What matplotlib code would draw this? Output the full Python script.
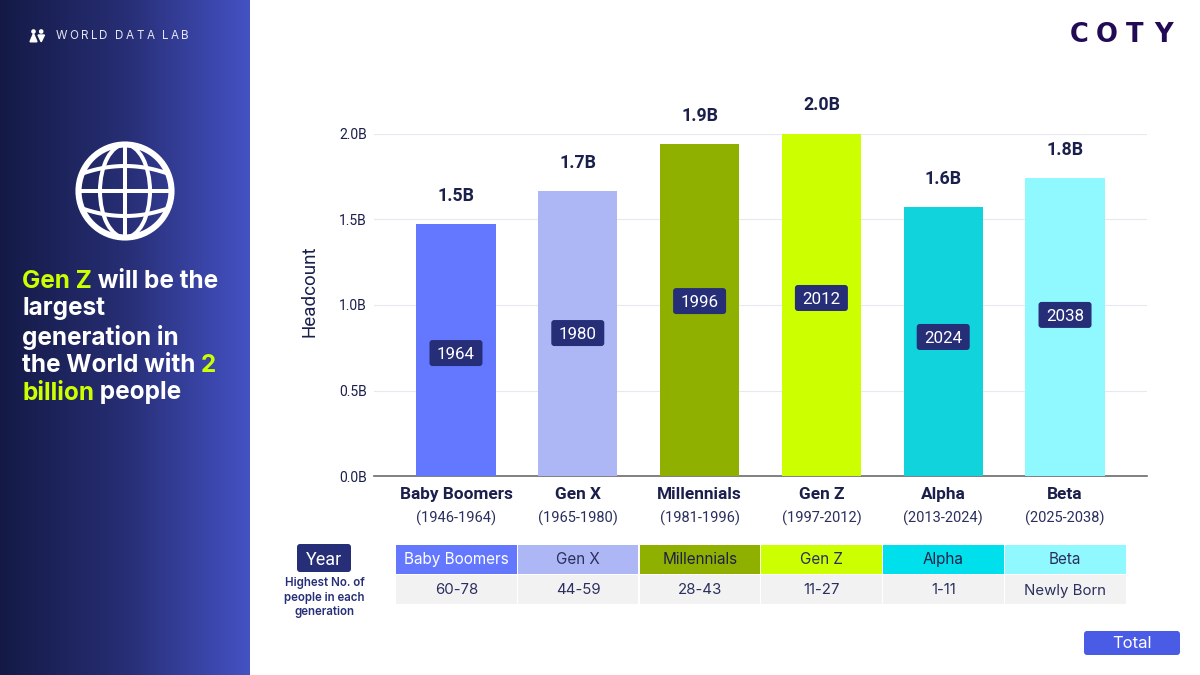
#!/usr/bin/env python

import numpy as np
import matplotlib
matplotlib.use('Agg')
import matplotlib.pyplot as plt
from matplotlib.colors import LinearSegmentedColormap
from matplotlib.patches import Rectangle, FancyBboxPatch, Circle, Ellipse, Polygon

generations = ['Baby Boomers', 'Gen X', 'Millennials', 'Gen Z', 'Alpha', 'Beta']
spans = ['(1946-1964)', '(1965-1980)', '(1981-1996)', '(1997-2012)', '(2013-2024)', '(2025-2038)']
headcount = [1.474, 1.667, 1.942, 2.006, 1.573, 1.743]
top_labels = ['1.5B', '1.7B', '1.9B', '2.0B', '1.6B', '1.8B']
end_years = ['1964', '1980', '1996', '2012', '2024', '2038']
year_heights = [0.719, 0.836, 1.023, 1.041, 0.813, 0.942]
ages = ['60-78', '44-59', '28-43', '11-27', '1-11', 'Newly Born']
y_ticks = [0, 0.5, 1.0, 1.5, 2.0]
y_tick_labels = ['0.0B', '0.5B', '1.0B', '1.5B', '2.0B']

bar_colors = ['#6478ff', '#aeb7f5', '#90b000', '#ccff00', '#10d3dc', '#90f9ff']
cell_colors = ['#6478ff', '#aeb7f5', '#90b000', '#ccff00', '#00e0ec', '#90f9ff']
cell_text = ['white', '#2a2f5e', '#1d2145', '#2a2f5e', '#1d2145', '#2a2f5e']

NAVY = '#1a1f4b'
BADGE = '#272e78'
LIME = '#ccff00'

fig = plt.figure(figsize=(12, 6.75), dpi=100, facecolor='white')
renderer = fig.canvas.get_renderer()

# overlay in pixel coordinates for the panel, table and logos
bg = fig.add_axes([0, 0, 1, 1], zorder=0)
panel_cmap = LinearSegmentedColormap.from_list('panel', ['#141a45', '#272e74', '#4452c4'])
bg.imshow(np.linspace(0, 1, 256).reshape(1, -1), cmap=panel_cmap, aspect='auto',
          extent=[0, 250, 675, 0], zorder=1)
bg.set_xlim(0, 1200)
bg.set_ylim(675, 0)
bg.axis('off')

# small people icon
bg.add_patch(Circle((33.5, 31.5), 1.6, color='white', zorder=3))
bg.add_patch(Polygon([[33.5, 33.5], [30, 41.8], [37, 41.8]], color='white', zorder=3))
bg.add_patch(Circle((41.2, 31.5), 1.6, color='white', zorder=3))
bg.add_patch(Polygon([[38, 35], [44.5, 35], [41.2, 41.8]], color='white', zorder=3))


def spaced_text(x, y, s, gap):
    # letter spacing by hand, one text per character
    for ch in s:
        t = bg.text(x, y, ch, color='#e4e6f5', fontsize=8.4, family='Inter',
                    va='center', ha='left', zorder=3)
        x += (t.get_window_extent(renderer).width if ch != ' ' else 3) + gap


spaced_text(55.5, 36, 'WORLD DATA LAB', 2.35)

# globe
gx, gy, gr = 125, 191, 46.5
lw = 2.9
kw = dict(fill=False, ec='white', zorder=3)
bg.add_patch(Circle((gx, gy), gr, lw=4.4, **kw))
bg.add_patch(Ellipse((gx, gy), 50, 2 * gr, lw=lw, **kw))
bg.plot([gx, gx], [gy - gr, gy + gr], color='white', lw=lw, zorder=3)
bg.plot([gx - gr, gx + gr], [gy, gy], color='white', lw=lw, zorder=3)
arc = np.linspace(-1, 1, 60)
bg.plot(gx + arc * 41, gy - 18 - 7 * (1 - arc ** 2), color='white', lw=lw, zorder=3)
bg.plot(gx + arc * 41, gy + 18 + 7 * (1 - arc ** 2), color='white', lw=lw, zorder=3)


def rich_line(x, y, parts):
    # write coloured pieces one after the other
    for s, c in parts:
        t = bg.text(x, y, s, color=c, fontsize=17.5, family='Inter', fontweight='bold',
                    va='center', ha='left', zorder=3)
        x += t.get_window_extent(renderer).width


rich_line(22, 281, [('Gen Z', LIME), (' will be the', 'white')])
rich_line(22, 309, [('largest', 'white')])
rich_line(22, 337, [('generation in', 'white')])
rich_line(22, 365, [('the World with ', 'white'), ('2', LIME)])
rich_line(22, 393, [('billion', LIME), (' people', 'white')])

# COTY logo
for cx, ch in zip([1079, 1107, 1135, 1164], 'COTY'):
    bg.text(cx, 32, ch, color='#220a55', fontsize=18.5, family='DejaVu Sans', fontweight='bold',
            ha='center', va='center_baseline', zorder=3)


def badge(ax, x, y, w, h, text, fs):
    ax.add_patch(FancyBboxPatch((x - w / 2, y - h / 2), w, h, boxstyle='round,pad=0,rounding_size=3',
                                fc=BADGE, ec='none', zorder=4))
    ax.text(x, y, text, color='white', fontsize=fs, family='Roboto', ha='center',
            va='center_baseline', zorder=5)


# table under the chart
badge(bg, 324, 558, 54, 28, 'Year', 13)
bg.text(324.5, 597.5, 'Highest No. of\npeople in each\ngeneration', color=BADGE, fontsize=8.3,
        family='Inter', fontweight='semibold', ha='center', va='center', linespacing=1.3, zorder=3)
for i, name in enumerate(generations):
    x0 = 396 + i * 121.8
    bg.add_patch(Rectangle((x0, 545), 120.6, 28.5, fc=cell_colors[i], ec='none', zorder=2))
    bg.add_patch(Rectangle((x0, 575), 120.6, 29, fc='#f2f2f2', ec='none', zorder=2))
    bg.text(x0 + 60.3, 559.5, name, color=cell_text[i], fontsize=11, family='Inter',
            ha='center', va='center', zorder=3)
    bg.text(x0 + 60.3, 590.5, ages[i], color='#2a2f5e', fontsize=10.8, family='Inter',
            ha='center', va='center', zorder=3)

bg.add_patch(FancyBboxPatch((1084, 631), 96, 24, boxstyle='round,pad=0,rounding_size=3',
                            fc='#4a5ce6', ec='none', zorder=2))
bg.text(1132, 644, 'Total', color='white', fontsize=12, family='Inter', ha='center',
        va='center', zorder=3)

# main chart
ax = fig.add_axes([374 / 1200, 1 - 476 / 675, (1147 - 374) / 1200, 342 / 675], zorder=2)
ax.patch.set_alpha(0)
x = np.arange(len(generations))
ax.bar(x, headcount, width=0.65, color=bar_colors, zorder=3)
ax.set_xlim(-0.673, 5.673)
ax.set_ylim(0, 2.0)
ax.set_yticks(y_ticks)
ax.set_yticklabels(y_tick_labels, fontsize=10, family='Roboto', color=NAVY)
ax.grid(axis='y', color='#e6e8f2', lw=0.8, zorder=0)
ax.set_axisbelow(True)
for s in ['top', 'right', 'left']:
    ax.spines[s].set_visible(False)
ax.spines['bottom'].set_color('#6b6b6b')
ax.spines['bottom'].set_linewidth(1.2)
ax.spines['bottom'].set_zorder(2)
ax.tick_params(axis='y', length=0, pad=5)
ax.tick_params(axis='x', length=0)
ax.set_xticks([])
ax.set_ylabel('Headcount', fontsize=13.5, family='Roboto', color=NAVY)
ax.yaxis.set_label_coords(-0.072, 0.541)

# badges sit on top, placed through the chart's own scale
top = fig.add_axes([0, 0, 1, 1], zorder=3)
top.set_xlim(0, 1200)
top.set_ylim(675, 0)
top.axis('off')

for i in x:
    ax.text(i, headcount[i] + 0.165, top_labels[i], fontsize=12.8, fontweight='bold', family='Roboto',
            color=NAVY, ha='center', va='center', clip_on=False)
    ax.text(i, -0.11, generations[i], fontsize=12.4, fontweight='bold', family='Roboto',
            color=NAVY, ha='center', va='center', clip_on=False)
    ax.text(i, -0.245, spans[i], fontsize=10.5, family='Roboto', color='#2a2f5e',
            ha='center', va='center', clip_on=False)
    px, py = ax.transData.transform((i, year_heights[i]))
    badge(top, px, 675 - py, 53, 26, end_years[i], 12.2)

fig.savefig('out.png', dpi=100)
